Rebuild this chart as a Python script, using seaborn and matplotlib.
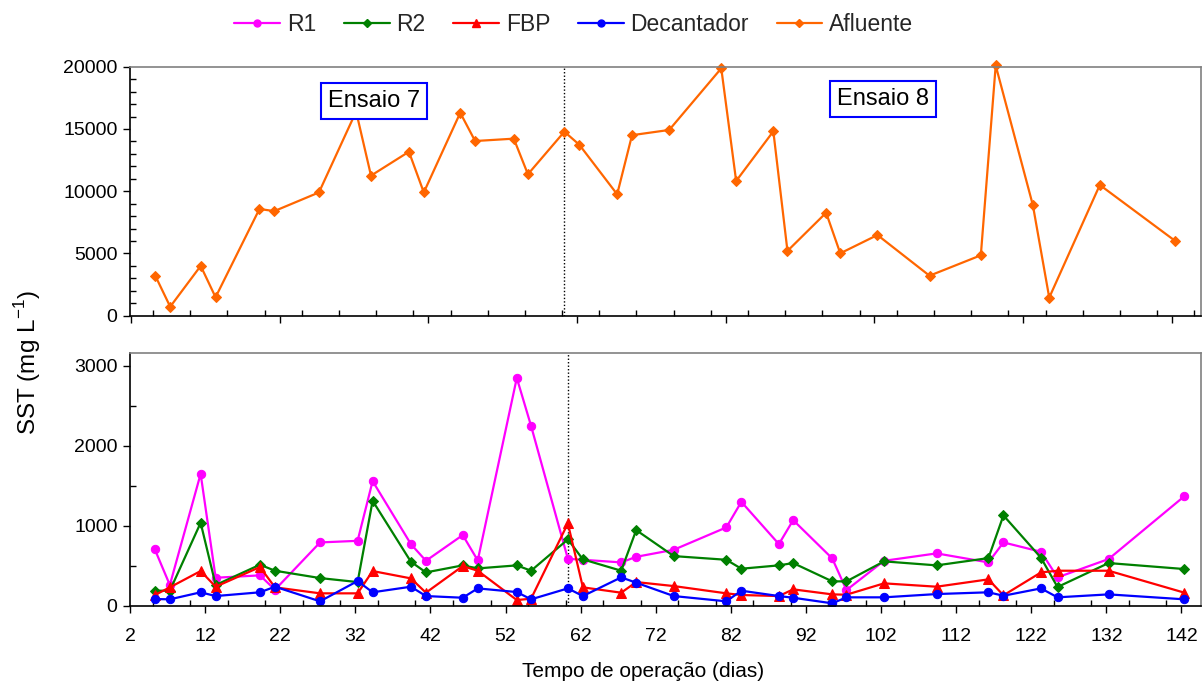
import matplotlib
matplotlib.use('Agg')
import matplotlib.pyplot as plt
import seaborn as sns
import pandas as pd
from matplotlib.ticker import MultipleLocator, FixedLocator, NullFormatter
from matplotlib.lines import Line2D

# ---------------- data ----------------
dias = [5.3, 7.3, 11.4, 13.4, 19.3, 21.3, 27.3, 32.3, 34.3, 39.4, 41.4, 46.3,
        48.3, 53.5, 55.4, 60.3, 62.3, 67.4, 69.4, 74.4, 81.4, 83.4, 88.4, 90.3,
        95.5, 97.4, 102.4, 109.4, 116.3, 118.3, 123.3, 125.5, 132.3, 142.4]

afluente = [3200, 720, 4000, 1480, 8570, 8400, 9900, 16400, 11250, 13170, 9900,
            16300, 14030, 14220, 11360, 14780, 13740, 9750, 14500, 14920, 19870,
            10820, 14810, 5200, 8270, 5010, 6480, 3210, 4850, 20100, 8870, 1450,
            10500, 6020]

r1 = [705, 259, 1650, 350, 380, 200, 792, 812, 1559, 771, 562, 884, 567, 2850,
      2250, 587, 575, 542, 612, 700, 980, 1300, 771, 1071, 592, 196, 562, 655,
      542, 792, 675, 355, 584, 1371]

r2 = [188, 188, 1038, 259, 513, 438, 346, 296, 1313, 550, 417, 505, 467, 505,
      438, 830, 580, 438, 946, 621, 575, 463, 505, 534, 305, 305, 555, 505, 596,
      1130, 600, 234, 534, 459]

fbp = [134, 230, 434, 238, 484, 230, 155, 155, 434, 342, 163, 496, 438, 71, 88,
       1030, 230, 163, 296, 246, 155, 134, 121, 205, 142, 138, 280, 238, 330,
       130, 417, 438, 438, 163]

decantador = [84, 80, 168, 121, 168, 238, 55, 309, 168, 238, 121, 100, 217, 171,
              80, 217, 121, 355, 288, 121, 55, 188, 121, 100, 30, 105, 105, 146,
              168, 125, 217, 105, 142, 80]

dia_transicao = 60.3
ensaios = ["Ensaio 7", "Ensaio 8"]
ensaio_x = [34.7, 103.1]
ensaio_y = [17250, 17400]

x_ticks_bottom = list(range(2, 143, 10))
x_ticks_top = list(range(2, 143, 20))

# ---------------- style ----------------
sns.set_theme(style='white')
plt.rcParams['font.family'] = ['Liberation Sans', 'DejaVu Sans']
plt.rcParams['mathtext.fontset'] = 'custom'
plt.rcParams['mathtext.rm'] = 'Liberation Sans'

fig = plt.figure(figsize=(12.03, 6.87), dpi=100)
ax1 = fig.add_axes([0.1081, 0.5405, 0.8902, 0.3624])
ax2 = fig.add_axes([0.1081, 0.1183, 0.8902, 0.3683])

series_bottom = [
    ("R1", r1, "#FF00FF", "o", 6.0),
    ("R2", r2, "#008000", "D", 5.0),
    ("FBP", fbp, "#FF0000", "^", 6.5),
    ("Decantador", decantador, "#0000FF", "o", 6.0),
]

for name, vals, col, mk, ms in series_bottom:
    df = pd.DataFrame({"dia": dias, "sst": vals})
    sns.lineplot(data=df, x="dia", y="sst", ax=ax2, color=col, marker=mk,
                 markersize=ms, markeredgecolor=col, linewidth=1.6,
                 errorbar=None, legend=False)

df_a = pd.DataFrame({"dia": dias, "sst": afluente})
sns.lineplot(data=df_a, x="dia", y="sst", ax=ax1, color="#FF6600", marker="D",
             markersize=5.0, markeredgecolor="#FF6600", linewidth=1.6,
             errorbar=None, legend=False, clip_on=False)

# transition lines
for ax in (ax1, ax2):
    ax.axvline(dia_transicao, color='black', linestyle=(0, (1, 1.5)), linewidth=1.0, zorder=1)

# labels boxes
for t, xx, yy in zip(ensaios, ensaio_x, ensaio_y):
    ax1.text(xx, yy, t, ha='center', va='center', fontsize=17, color='black',
             bbox=dict(boxstyle='square,pad=0.3', facecolor='white',
                       edgecolor='#0000FF', linewidth=1.5), zorder=5)

# axes limits and ticks
ax1.set_xlim(1.9, 145.9)
ax1.set_ylim(0, 20000)
ax2.set_xlim(2, 144.6)
ax2.set_ylim(0, 3166)

ax1.xaxis.set_major_locator(FixedLocator(x_ticks_top))
ax1.xaxis.set_minor_locator(MultipleLocator(5))
ax1.xaxis.set_major_formatter(NullFormatter())
ax1.yaxis.set_major_locator(MultipleLocator(5000))
ax1.yaxis.set_minor_locator(MultipleLocator(1000))

ax2.xaxis.set_major_locator(FixedLocator(x_ticks_bottom))
ax2.xaxis.set_minor_locator(MultipleLocator(5))
ax2.set_xticklabels([str(v) for v in x_ticks_bottom])
ax2.yaxis.set_major_locator(MultipleLocator(1000))
ax2.yaxis.set_minor_locator(MultipleLocator(500))

for ax in (ax1, ax2):
    ax.set_xlabel("")
    ax.set_ylabel("")
    ax.tick_params(which='major', direction='out', length=5, width=1,
                   color='black', labelsize=14, labelcolor='black',
                   bottom=True, left=True)
    ax.tick_params(which='minor', direction='in', length=4, width=1,
                   color='black', bottom=True, left=True)
    ax.tick_params(axis='y', which='major', pad=4)
    for s in ('left', 'bottom'):
        ax.spines[s].set_color('black')
        ax.spines[s].set_linewidth(1.2)
    for s in ('top', 'right'):
        ax.spines[s].set_color('#808080')
        ax.spines[s].set_linewidth(1.2)
    ax.set_facecolor('white')

ax2.tick_params(axis='x', which='major', pad=11)

fig.text(0.5345, 0.022, "Tempo de operação (dias)", ha='center', va='center',
         fontsize=15, color='black')
fig.text(0.023, 0.472, r"SST (mg L$^{\mathregular{-1}}$)", ha='center', va='center',
         rotation=90, fontsize=17.5, color='black')

# legend
handles = [
    Line2D([], [], color="#FF00FF", marker="o", markersize=5, linewidth=1.6),
    Line2D([], [], color="#008000", marker="D", markersize=4.5, linewidth=1.6),
    Line2D([], [], color="#FF0000", marker="^", markersize=5.5, linewidth=1.6),
    Line2D([], [], color="#0000FF", marker="o", markersize=5, linewidth=1.6),
    Line2D([], [], color="#FF6600", marker="D", markersize=4.5, linewidth=1.6),
]
labels = ["R1", "R2", "FBP", "Decantador", "Afluente"]
fig.legend(handles, labels, loc='center', bbox_to_anchor=(0.477, 0.965), ncol=5,
           frameon=False, fontsize=16.5, handlelength=2.0, handletextpad=0.3,
           columnspacing=1.2)

fig.savefig("out.png", dpi=100, facecolor='white')
